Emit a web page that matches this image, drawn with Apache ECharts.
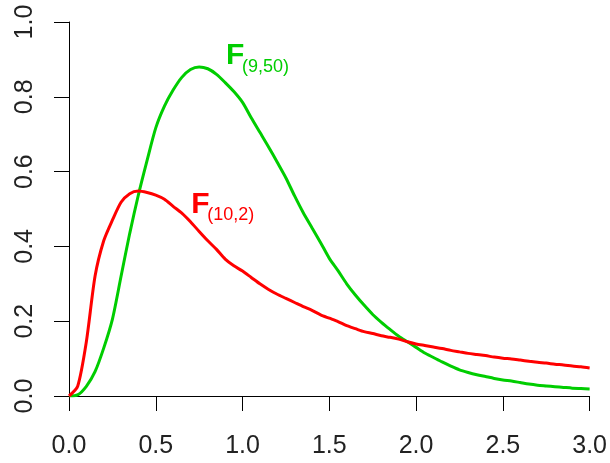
<!DOCTYPE html>
<html>
<head>
<meta charset="utf-8">
<title>F densities</title>
<script src="https://cdn.jsdelivr.net/npm/echarts@6/dist/echarts.min.js"></script>
<style>
  html, body { margin: 0; padding: 0; background: #fff; }
  #chart { width: 610px; height: 463px; }
</style>
</head>
<body>
<div id="chart"></div>
<script>
// x grid shared by both density curves
const xs = [];
for (let i = 0; i <= 60; i++) xs.push(+(i * 0.05).toFixed(2));

// density of F(10,2)
const f10_2 = [
  0, 0.026, 0.145, 0.32, 0.415, 0.47, 0.518, 0.541, 0.548, 0.544,
  0.537, 0.526, 0.507, 0.489, 0.466, 0.440, 0.415, 0.392, 0.366, 0.348,
  0.334, 0.317, 0.300, 0.285, 0.272, 0.261, 0.250, 0.239, 0.229, 0.217,
  0.208, 0.199, 0.188, 0.180, 0.172, 0.167, 0.161, 0.157, 0.152, 0.145,
  0.139, 0.135, 0.131, 0.127, 0.122, 0.118, 0.114, 0.111, 0.108, 0.104,
  0.101, 0.099, 0.096, 0.093, 0.090, 0.088, 0.085, 0.083, 0.080, 0.078,
  0.075
];

// density of F(9,50)
const f9_50 = [
  0, 0.003, 0.026, 0.065, 0.128, 0.205, 0.32, 0.435, 0.538, 0.63,
  0.717, 0.775, 0.818, 0.852, 0.873, 0.880, 0.875, 0.86, 0.838, 0.814,
  0.785, 0.744, 0.705, 0.666, 0.625, 0.583, 0.535, 0.49, 0.45, 0.41,
  0.368, 0.335, 0.30, 0.27, 0.243, 0.218, 0.197, 0.178, 0.16, 0.145,
  0.13, 0.115, 0.103, 0.091, 0.08, 0.07, 0.063, 0.057, 0.052, 0.047,
  0.043, 0.040, 0.036, 0.032, 0.029, 0.027, 0.025, 0.023, 0.021, 0.020,
  0.019
];

const xTickLabels = ['0.0', '0.5', '1.0', '1.5', '2.0', '2.5', '3.0'];
const yTickLabels = ['0.0', '0.2', '0.4', '0.6', '0.8', '1.0'];

const RED = '#ff0000';
const GREEN = '#00cd00';
const FONT = '"Liberation Sans", Arial, sans-serif';

const pairs = ys => xs.map((x, i) => [x, ys[i]]);

const chart = echarts.init(document.getElementById('chart'), null, { renderer: 'canvas' });

const axisCommon = {
  type: 'value',
  splitLine: { show: false },
  axisLine: { show: true, lineStyle: { color: '#000', width: 1 } },
  axisTick: { show: true, inside: false, length: 15, lineStyle: { color: '#000', width: 1 } }
};

const curve = (name, ys, color, z) => ({
  name, type: 'line', data: pairs(ys),
  showSymbol: false, symbol: 'none',
  smooth: 0.25,
  lineStyle: { color, width: 3 }, itemStyle: { color }, z
});

chart.setOption({
  animation: false,
  backgroundColor: '#fff',
  grid: { left: 69, right: 18, top: 22, bottom: 67 },
  xAxis: Object.assign({}, axisCommon, {
    min: 0, max: 3, interval: 0.5,
    axisLabel: {
      color: '#222', fontFamily: FONT, fontSize: 25, margin: 38,
      verticalAlign: 'top',
      formatter: v => xTickLabels[Math.round(v / 0.5)]
    }
  }),
  yAxis: Object.assign({}, axisCommon, {
    min: 0, max: 1, interval: 0.2,
    axisLabel: {
      color: '#222', fontFamily: FONT, fontSize: 25, margin: 31, rotate: 90,
      formatter: v => yTickLabels[Math.round(v / 0.2)]
    }
  }),
  series: [
    curve('F(10,2)', f10_2, RED, 3),
    curve('F(9,50)', f9_50, GREEN, 2)
  ]
});

// curve names: a large "F" followed by a smaller subscript
function curveLabel(name, sub, x, y, color) {
  const p = chart.convertToPixel({ gridIndex: 0 }, [x, y]);
  return [
    {
      type: 'text', x: p[0], y: p[1],
      style: { text: name, fill: color, font: 'bold 30px ' + FONT, align: 'left', verticalAlign: 'middle' }
    },
    {
      type: 'text', x: p[0] + 16, y: p[1] + 11,
      style: { text: sub, fill: color, font: '18px ' + FONT, align: 'left', verticalAlign: 'middle' }
    }
  ];
}

chart.setOption({
  graphic: [].concat(
    curveLabel('F', '(9,50)', 0.904, 0.909, GREEN),
    curveLabel('F', '(10,2)', 0.704, 0.512, RED)
  )
});
</script>
</body>
</html>
